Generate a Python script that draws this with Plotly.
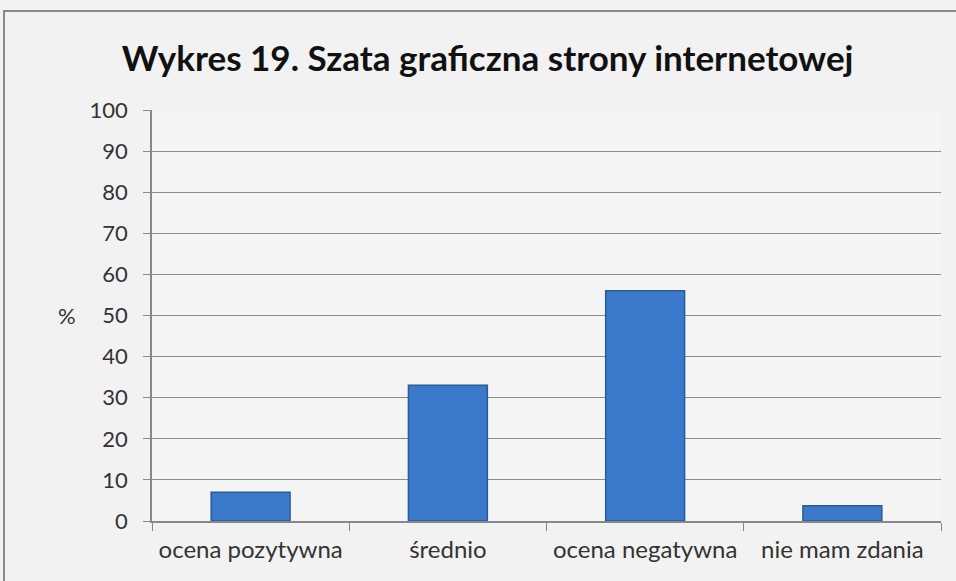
import plotly.graph_objects as go

categories = ["ocena pozytywna", "średnio", "ocena negatywna", "nie mam zdania"]
values = [7, 33, 56, 3.7]
y_ticks = list(range(0, 101, 10))

W, H = 956, 581
L, R, T, B = 152, 15, 110, 60
pw, ph = W - L - R, H - T - B

def px_x(p):
    return (p - L) / pw

def px_y(p):
    return 1 - (p - T) / ph

fig = go.Figure()
fig.add_trace(go.Bar(
    x=categories, y=values,
    marker=dict(color="#3b7acb", line=dict(color="#2a5a98", width=1.5)),
    width=0.4,
    hoverinfo="x+y",
))

font = "Lato, 'Open Sans', sans-serif"
fig.update_layout(
    width=W, height=H,
    margin=dict(l=L, r=R, t=T, b=B),
    paper_bgcolor="#f2f2f2",
    plot_bgcolor="#f4f4f4",
    showlegend=False,
    title=dict(
        text="<b>Wykres 19. Szata graficzna strony internetowej</b>",
        x=0.510, xref="container", xanchor="center",
        y=1 - 59 / H, yref="container", yanchor="middle",
        font=dict(family=font, size=35, color="#111"),
    ),
    font=dict(family=font, size=22, color="#333"),
    xaxis=dict(
        type="category", tickson="boundaries", ticks="outside", ticklen=8,
        tickcolor="#888", showline=True, linecolor="#888", linewidth=1.5,
        showgrid=False, tickfont=dict(size=24, color="#333"),
        ticklabelstandoff=6,
    ),
    yaxis=dict(
        range=[0, 100], tickvals=y_ticks, ticks="outside", ticklen=7,
        tickcolor="#888", showline=True, linecolor="#888", linewidth=1.5,
        showgrid=True, gridcolor="#8c8c8c", gridwidth=1,
        tickfont=dict(size=22, color="#333"), zeroline=False,
        ticklabelstandoff=11,
    ),
    shapes=[dict(
        type="rect", xref="paper", yref="paper",
        x0=px_x(4), x1=px_x(W + 10), y0=px_y(H + 10), y1=px_y(11),
        line=dict(color="#8a8a8a", width=2), fillcolor="rgba(0,0,0,0)",
        layer="above",
    )],
    annotations=[dict(
        text="%", xref="paper", yref="y", x=px_x(67), y=50,
        xanchor="center", yanchor="middle", showarrow=False,
        font=dict(family=font, size=22, color="#333"),
    )],
)

fig.write_html("out.html")
